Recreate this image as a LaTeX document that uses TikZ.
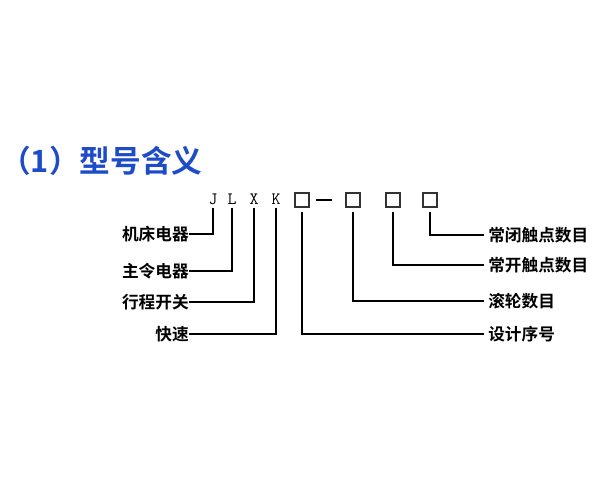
\documentclass[tikz,border=0pt]{standalone}
\usepackage{fontspec}
\newfontfamily\cjk{Noto Sans CJK SC Bold}
\newfontfamily\cjkb{Noto Sans CJK SC Bold}
\definecolor{titleblue}{RGB}{30,75,200}
\begin{document}
\begin{tikzpicture}[x=0.75pt,y=-0.75pt,
  lbl/.style={inner sep=0pt,font=\cjk\fontsize{12.5pt}{14pt}\selectfont},
  lblL/.style={lbl,anchor=east},
  lblR/.style={lbl,anchor=west},
  code/.style={inner sep=0pt,font=\ttfamily\addfontfeature{FakeBold=2}\fontsize{13pt}{14pt}\selectfont},
  sq/.style={draw=black!80,line width=0.9pt,minimum width=10.5pt,minimum height=10.5pt,inner sep=0pt},
  conn/.style={line width=1.5pt,black}]
\useasboundingbox (0,0) rectangle (600,500);
\node[anchor=west,inner sep=0pt,text=titleblue,font=\cjkb\fontsize{23pt}{25pt}\selectfont] (title) at (0,161) {（1）型号含义};
% code letters
\node[code] (J) at (213,199) {J};
\node[code] (L) at (232,199) {L};
\node[code] (X) at (254,199) {X};
\node[code] (K) at (276,199) {K};
\node[sq] (b1) at (302,200) {};
\node[sq] (b2) at (353,200) {};
\node[sq] (b3) at (393,200) {};
\node[sq] (b4) at (430,200) {};
\coordinate (dl) at (316,200);
\coordinate (dr) at (332,200);
\draw[line width=1.3pt] (dl) -- (dr);
% left labels
\node[lblL] (l1) at (189,234) {机床电器};
\node[lblL] (l2) at (189,271) {主令电器};
\node[lblL] (l3) at (189,302) {行程开关};
\node[lblL] (l4) at (189,334) {快速};
\draw[conn] (J.south) ++(0,3) |- (l1.east);
\draw[conn] (L.south) ++(0,3) |- (l2.east);
\draw[conn] (X.south) ++(0,3) |- (l3.east);
\draw[conn] (K.south) ++(0,3) |- (l4.east);
% right labels
\node[lblR] (r1) at (488,235) {常闭触点数目};
\node[lblR] (r2) at (488,265) {常开触点数目};
\node[lblR] (r3) at (488,301) {滚轮数目};
\node[lblR] (r4) at (488,334) {设计序号};
\draw[conn] (b4.south) ++(0,4) |- ([xshift=-3]r1.west);
\draw[conn] (b3.south) ++(0,4) |- ([xshift=-3]r2.west);
\draw[conn] (b2.south) ++(0,4) |- ([xshift=-3]r3.west);
\draw[conn] (b1.south) ++(0,4) |- ([xshift=-3]r4.west);
\end{tikzpicture}
\end{document}
